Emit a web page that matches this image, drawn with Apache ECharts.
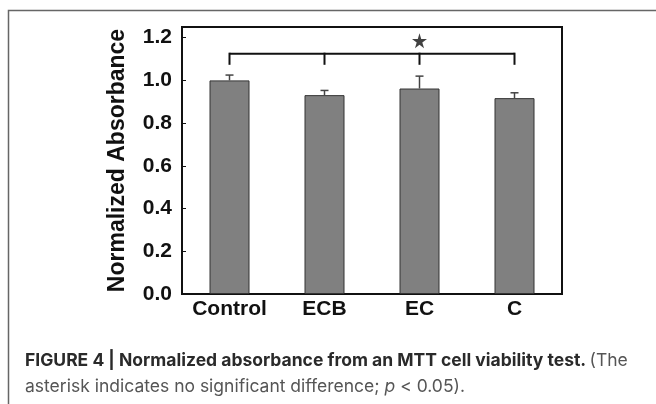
<!DOCTYPE html>
<html>
<head>
<meta charset="utf-8">
<script src="https://cdn.jsdelivr.net/npm/echarts@6/dist/echarts.min.js"></script>
<style>
  html, body { margin: 0; padding: 0; background: #fff; }
  #chart { width: 656px; height: 404px; }
</style>
</head>
<body>
<div id="chart"></div>
<script>
// data
const groups = ['Control', 'ECB', 'EC', 'C'];
const absorbance = [1.0, 0.931, 0.962, 0.917];
const errTop = [1.025, 0.953, 1.02, 0.942];
const yTicks = [0, 0.2, 0.4, 0.6, 0.8, 1.0, 1.2];
// significance bracket: level of the bar and of the drop ends
const bracketLevel = 1.125;
const bracketEnd = 1.073;
const starLevel = 1.186;

const chart = echarts.init(document.getElementById('chart'));

const labelFont = { fontFamily: 'Liberation Sans', fontWeight: 'bold', fontSize: 21, color: '#111' };

const option = {
  animation: false,
  grid: {
    left: 182, top: 27, right: 94, bottom: 110,
    show: true, borderColor: '#111', borderWidth: 2, backgroundColor: 'transparent'
  },
  xAxis: {
    type: 'category',
    data: groups,
    axisLine: { lineStyle: { color: '#111', width: 2 } },
    axisTick: { show: false },
    axisLabel: Object.assign({ margin: 5, interval: 0 }, labelFont)
  },
  yAxis: {
    type: 'value',
    min: 0, max: 1.25, interval: 0.2,
    name: 'Normalized Absorbance',
    nameLocation: 'middle',
    nameGap: 53,
    nameTextStyle: { fontFamily: 'Liberation Sans', fontWeight: 'bold', fontSize: 23, color: '#111' },
    axisLine: { show: true, lineStyle: { color: '#111', width: 2 } },
    axisTick: { show: true, inside: true, length: 4, lineStyle: { color: '#111', width: 1 } },
    splitLine: { show: false },
    axisLabel: Object.assign({
      margin: 10,
      showMaxLabel: false,
      formatter: v => yTicks.some(t => Math.abs(t - v) < 1e-6) ? v.toFixed(1) : ''
    }, labelFont)
  },
  series: [
    {
      type: 'bar',
      data: absorbance,
      barWidth: 40,
      itemStyle: { color: '#808080', borderColor: '#333', borderWidth: 1 }
    },
    {
      // error bars
      type: 'custom',
      data: groups.map((g, i) => [i, absorbance[i], errTop[i]]),
      renderItem: (params, api) => {
        const lo = api.coord([api.value(0), api.value(1)]);
        const hi = api.coord([api.value(0), api.value(2)]);
        const style = { stroke: '#444', lineWidth: 1.5 };
        return {
          type: 'group',
          children: [
            { type: 'line', shape: { x1: lo[0], y1: lo[1], x2: hi[0], y2: hi[1] }, style },
            { type: 'line', shape: { x1: hi[0] - 4, y1: hi[1], x2: hi[0] + 4, y2: hi[1] }, style }
          ]
        };
      },
      z: 3
    },
    {
      // significance bracket across all groups
      type: 'custom',
      data: [[0, groups.length - 1, bracketLevel, bracketEnd]],
      renderItem: (params, api) => {
        const first = api.value(0), last = api.value(1);
        const top = api.value(2), end = api.value(3);
        const style = { stroke: '#111', lineWidth: 2 };
        const a = api.coord([first, top]);
        const b = api.coord([last, top]);
        const children = [{ type: 'line', shape: { x1: a[0], y1: a[1], x2: b[0], y2: b[1] }, style }];
        for (let i = first; i <= last; i++) {
          const p = api.coord([i, top]);
          const q = api.coord([i, end]);
          children.push({ type: 'line', shape: { x1: p[0], y1: p[1] - 1, x2: q[0], y2: q[1] }, style });
        }
        return { type: 'group', children };
      },
      z: 3
    },
    {
      // asterisk (star) between ECB and EC
      type: 'scatter',
      data: [[1.5, starLevel]],
      symbol: 'path://M50,0 L61,35 L98,35 L68,57 L79,91 L50,70 L21,91 L32,57 L2,35 L39,35 Z',
      symbolSize: 15,
      itemStyle: { color: '#111' },
      z: 4
    }
  ],
  graphic: [
    {
      type: 'polyline',
      shape: { points: [[8.5, 404], [8.5, 10.5], [656, 10.5]] },
      style: { stroke: '#666', lineWidth: 1.5, fill: null }
    },
    {
      type: 'text',
      left: 25, top: 352,
      style: {
        text: '{b|FIGURE 4 | Normalized absorbance from an MTT cell viability test.} {n|(The}',
        rich: {
          b: { fontFamily: 'Inter', fontWeight: 'bold', fontSize: 17.5, fill: '#2a2a2a' },
          n: { fontFamily: 'Inter', fontSize: 17.5, fill: '#555' }
        }
      }
    },
    {
      type: 'text',
      left: 25, top: 378,
      style: {
        text: '{n|asterisk indicates no significant difference; }{i|p}{n| < 0.05).}',
        rich: {
          n: { fontFamily: 'Inter', fontSize: 17.5, fill: '#555' },
          i: { fontFamily: 'Inter', fontStyle: 'italic', fontSize: 17.5, fill: '#555' }
        }
      }
    }
  ]
};

chart.setOption(option);
</script>
</body>
</html>
